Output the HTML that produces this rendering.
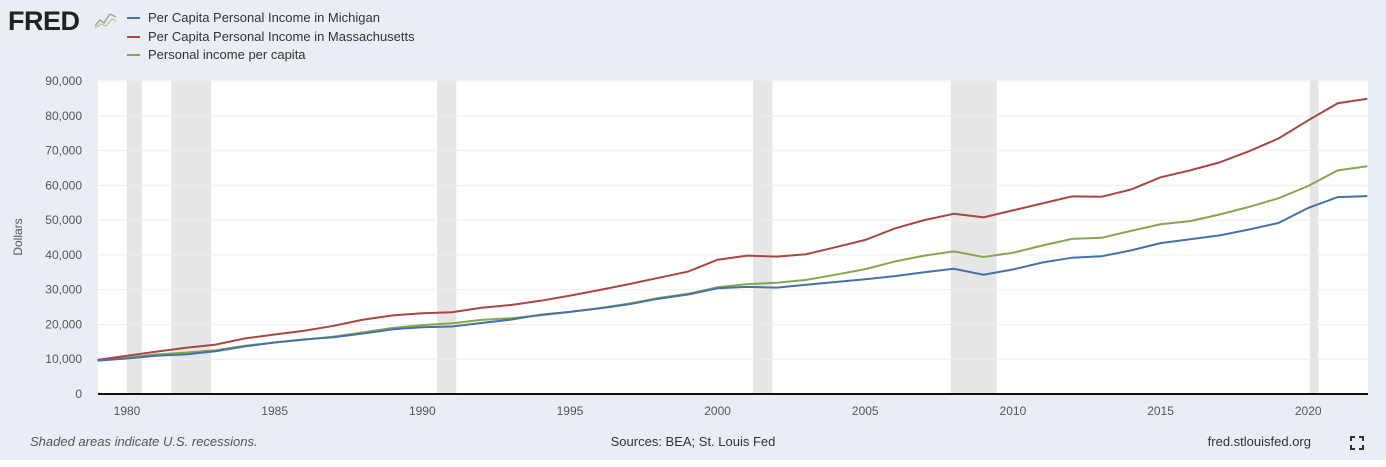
<!DOCTYPE html>
<html><head><meta charset="utf-8"><style>
body{margin:0;width:1386px;height:467px;background:#e9eef4;font-family:"Liberation Sans",sans-serif;overflow:hidden}
svg{position:absolute;left:0;top:0}
</style></head><body>
<svg width="1386" height="467" id="s" xmlns="http://www.w3.org/2000/svg">
<rect x="0" y="460" width="1386" height="7" fill="#fff"/>
<text x="8" y="30" font-size="27" font-weight="bold" fill="#222" font-family="Liberation Sans" letter-spacing="-0.5">FRED</text>
<polyline points="95,26 100,20 104,23 110,14 116,17" fill="none" stroke="#9aa" stroke-width="1.5"/>
<polyline points="95,28 101,24 106,26 112,19 116,21" fill="none" stroke="#b9c68a" stroke-width="1.2"/>
<g font-size="13" fill="#333">
<line x1="127" y1="18" x2="140" y2="18" stroke="#4572a7" stroke-width="2"/><text x="148" y="22">Per Capita Personal Income in Michigan</text>
<line x1="127" y1="37" x2="140" y2="37" stroke="#aa4643" stroke-width="2"/><text x="148" y="41">Per Capita Personal Income in Massachusetts</text>
<line x1="127" y1="55" x2="140" y2="55" stroke="#89a54e" stroke-width="2"/><text x="148" y="59">Personal income per capita</text>
</g>
<rect x="98" y="80" width="1270" height="314" fill="#fff"/>
<g id="rec" fill="#e6e6e6"></g>
<g id="grid"></g>
<line x1="98" y1="394" x2="1368" y2="394" stroke="#111" stroke-width="2"/>
<g id="lines" fill="none" stroke-width="2"></g>
<text x="22" y="237" font-size="12" fill="#555" transform="rotate(-90 22 237)" text-anchor="middle">Dollars</text>
<text x="30" y="446" font-size="13" fill="#555" font-style="italic">Shaded areas indicate U.S. recessions.</text>
<text x="693" y="446" font-size="13" fill="#333" text-anchor="middle">Sources: BEA; St. Louis Fed</text>
<text x="1311" y="446" font-size="13" fill="#333" text-anchor="end">fred.stlouisfed.org</text>
<g stroke="#333" stroke-width="2" fill="none"><path d="M1351 441v-4h4M1359 437h4v4M1363 445v4h-4M1355 449h-4v-4"/></g>
</svg>
<script>
const NS="http://www.w3.org/2000/svg";
const X=y=>127+(y-1980)*29.53, Y=v=>394-v*3.478;
function el(t,a,p){const e=document.createElementNS(NS,t);for(const k in a)e.setAttribute(k,a[k]);document.getElementById(p).appendChild(e);return e;}
[[1980,1980.5],[1981.5,1982.85],[1990.5,1991.15],[2001.2,2001.85],[2007.9,2009.45],[2020.05,2020.35]].forEach(r=>el('rect',{x:X(r[0]),y:80,width:X(r[1])-X(r[0]),height:314},'rec'));
for(let i=1;i<=9;i++){el('line',{x1:98,x2:1368,y1:Y(i*10),y2:Y(i*10),stroke:'#eee','stroke-width':1},'grid');}
for(let i=0;i<=9;i++){const t=el('text',{x:82,y:Y(i*10)+4,'font-size':12,fill:'#555','text-anchor':'end'},'grid');t.textContent=i?(i*10)+',000':'0';}
for(let y=1980;y<=2020;y+=5){const t=el('text',{x:X(y),y:415,'font-size':12,fill:'#555','text-anchor':'middle'},'grid');t.textContent=y;}
const mi=[9.6,10.2,11.0,11.4,12.3,13.7,14.8,15.7,16.3,17.4,18.6,19.2,19.4,20.4,21.4,22.8,23.6,24.6,25.8,27.4,28.6,30.4,30.8,30.6,31.4,32.2,33.0,33.9,35.0,36.0,34.3,35.8,37.8,39.2,39.6,41.3,43.4,44.5,45.6,47.3,49.2,53.5,56.6,56.9];
const ma=[9.8,11.0,12.2,13.3,14.2,16.0,17.1,18.2,19.6,21.4,22.6,23.2,23.5,24.8,25.6,26.8,28.3,29.9,31.6,33.4,35.2,38.6,39.8,39.5,40.2,42.2,44.3,47.6,50.0,51.8,50.8,52.8,54.8,56.8,56.7,58.8,62.3,64.3,66.6,69.8,73.5,78.7,83.6,84.9];
const us=[9.6,10.4,11.4,11.9,12.6,13.9,14.8,15.6,16.5,17.7,19.0,19.8,20.3,21.3,21.8,22.6,23.6,24.7,26.0,27.6,28.8,30.7,31.6,32.0,32.8,34.3,35.9,38.1,39.8,41.0,39.4,40.6,42.7,44.6,44.9,46.9,48.8,49.7,51.6,53.8,56.3,59.8,64.3,65.5];
[[us,'#89a54e'],[ma,'#aa4643'],[mi,'#4572a7']].forEach(([d,c])=>el('polyline',{stroke:c,points:d.map((v,i)=>X(1979+i).toFixed(1)+','+Y(v).toFixed(1)).join(' ')},'lines'));
</script>
</body></html>
